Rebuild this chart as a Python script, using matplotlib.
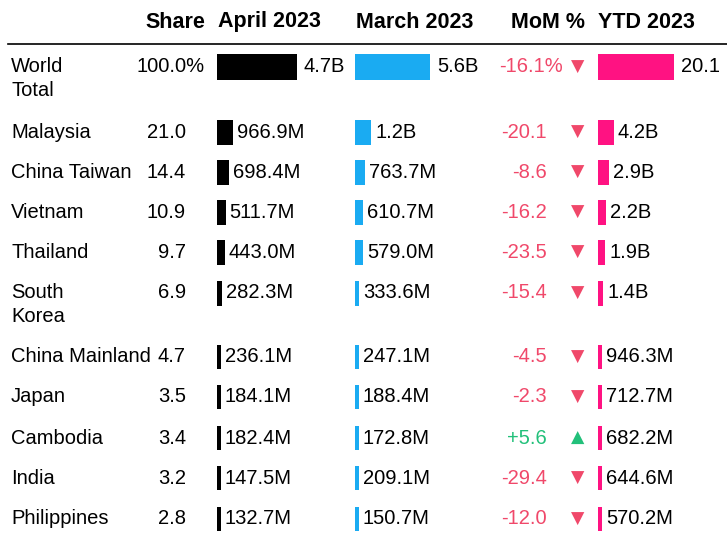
import matplotlib
matplotlib.use("Agg")
import matplotlib.pyplot as plt

countries = ["World\nTotal", "Malaysia", "China Taiwan", "Vietnam", "Thailand", "South\nKorea",
             "China Mainland", "Japan", "Cambodia", "India", "Philippines"]
share = ["100.0%", "21.0", "14.4", "10.9", "9.7", "6.9", "4.7", "3.5", "3.4", "3.2", "2.8"]
april = [4.7, 0.9669, 0.6984, 0.5117, 0.4430, 0.2823, 0.2361, 0.1841, 0.1824, 0.1475, 0.1327]
april_lbl = ["4.7B", "966.9M", "698.4M", "511.7M", "443.0M", "282.3M", "236.1M", "184.1M", "182.4M", "147.5M", "132.7M"]
march = [5.6, 1.2, 0.7637, 0.6107, 0.5790, 0.3336, 0.2471, 0.1884, 0.1728, 0.2091, 0.1507]
march_lbl = ["5.6B", "1.2B", "763.7M", "610.7M", "579.0M", "333.6M", "247.1M", "188.4M", "172.8M", "209.1M", "150.7M"]
mom = [-16.1, -20.1, -8.6, -16.2, -23.5, -15.4, -4.5, -2.3, 5.6, -29.4, -12.0]
mom_lbl = ["-16.1%", "-20.1", "-8.6", "-16.2", "-23.5", "-15.4", "-4.5", "-2.3", "+5.6", "-29.4", "-12.0"]
ytd = [20.1, 4.2, 2.9, 2.2, 1.9, 1.4, 0.9463, 0.7127, 0.6822, 0.6446, 0.5702]
ytd_lbl = ["20.1", "4.2B", "2.9B", "2.2B", "1.9B", "1.4B", "946.3M", "712.7M", "682.2M", "644.6M", "570.2M"]

row_y = [67, 132, 172, 212, 252, 293, 357, 397, 438, 478, 519]

fig = plt.figure(figsize=(7.27, 5.41), dpi=100)
ax = fig.add_axes([0, 0, 1, 1])
ax.set_xlim(0, 727); ax.set_ylim(541, 0); ax.axis("off")
F = "Liberation Sans"
fs = 14.5
red = "#f0486a"; green = "#22c07a"

hy = 22
hfs = 15.5
ax.text(205, hy, "Share", ha="right", va="center", fontsize=hfs, weight="bold", family=F)
ax.text(218, hy, "April 2023", ha="left", va="center", fontsize=hfs, weight="bold", family=F)
ax.text(356, hy, "March 2023", ha="left", va="center", fontsize=hfs, weight="bold", family=F)
ax.text(585, hy, "MoM %", ha="right", va="center", fontsize=hfs, weight="bold", family=F)
ax.text(598, hy, "YTD 2023", ha="left", va="center", fontsize=hfs, weight="bold", family=F)
ax.plot([8, 727], [44, 44], color="black", lw=1.2)

cols = [(217, april, april_lbl, 17.0, "black"),
        (355, march, march_lbl, 13.4, "#1aabf2"),
        (598, ytd, ytd_lbl, 3.8, "#ff1282")]

for i, c in enumerate(countries):
    y = row_y[i]
    world = i == 0
    h = 26 if world else (25 if i < 6 else 24)
    if "\n" in c:
        a, b = c.split("\n")
        ax.text(11, y, a, ha="left", va="center", fontsize=fs, family=F)
        ax.text(11, y + 24, b, ha="left", va="center", fontsize=fs, family=F)
    else:
        ax.text(11, y, c, ha="left", va="center", fontsize=fs, family=F)
    ax.text(205 if world else 186, y, share[i], ha="right", va="center", fontsize=fs, family=F)
    for x0, vals, lbls, sc, col in cols:
        w = max(vals[i] * sc, 4.0)
        ax.barh(y, w, left=x0, height=h, color=col)
        ax.text(x0 + w + (7 if world else 4), y, lbls[i], ha="left", va="center", fontsize=fs, family=F,
                clip_on=True)
    colr = green if mom[i] > 0 else red
    ax.text(563 if world else 547, y, mom_lbl[i], ha="right", va="center", fontsize=fs, family=F, color=colr)
    ax.text(578, y, "▲" if mom[i] > 0 else "▼", ha="center", va="center", fontsize=12.5,
            family="DejaVu Sans", color=colr)

fig.savefig("out.png", dpi=100)
